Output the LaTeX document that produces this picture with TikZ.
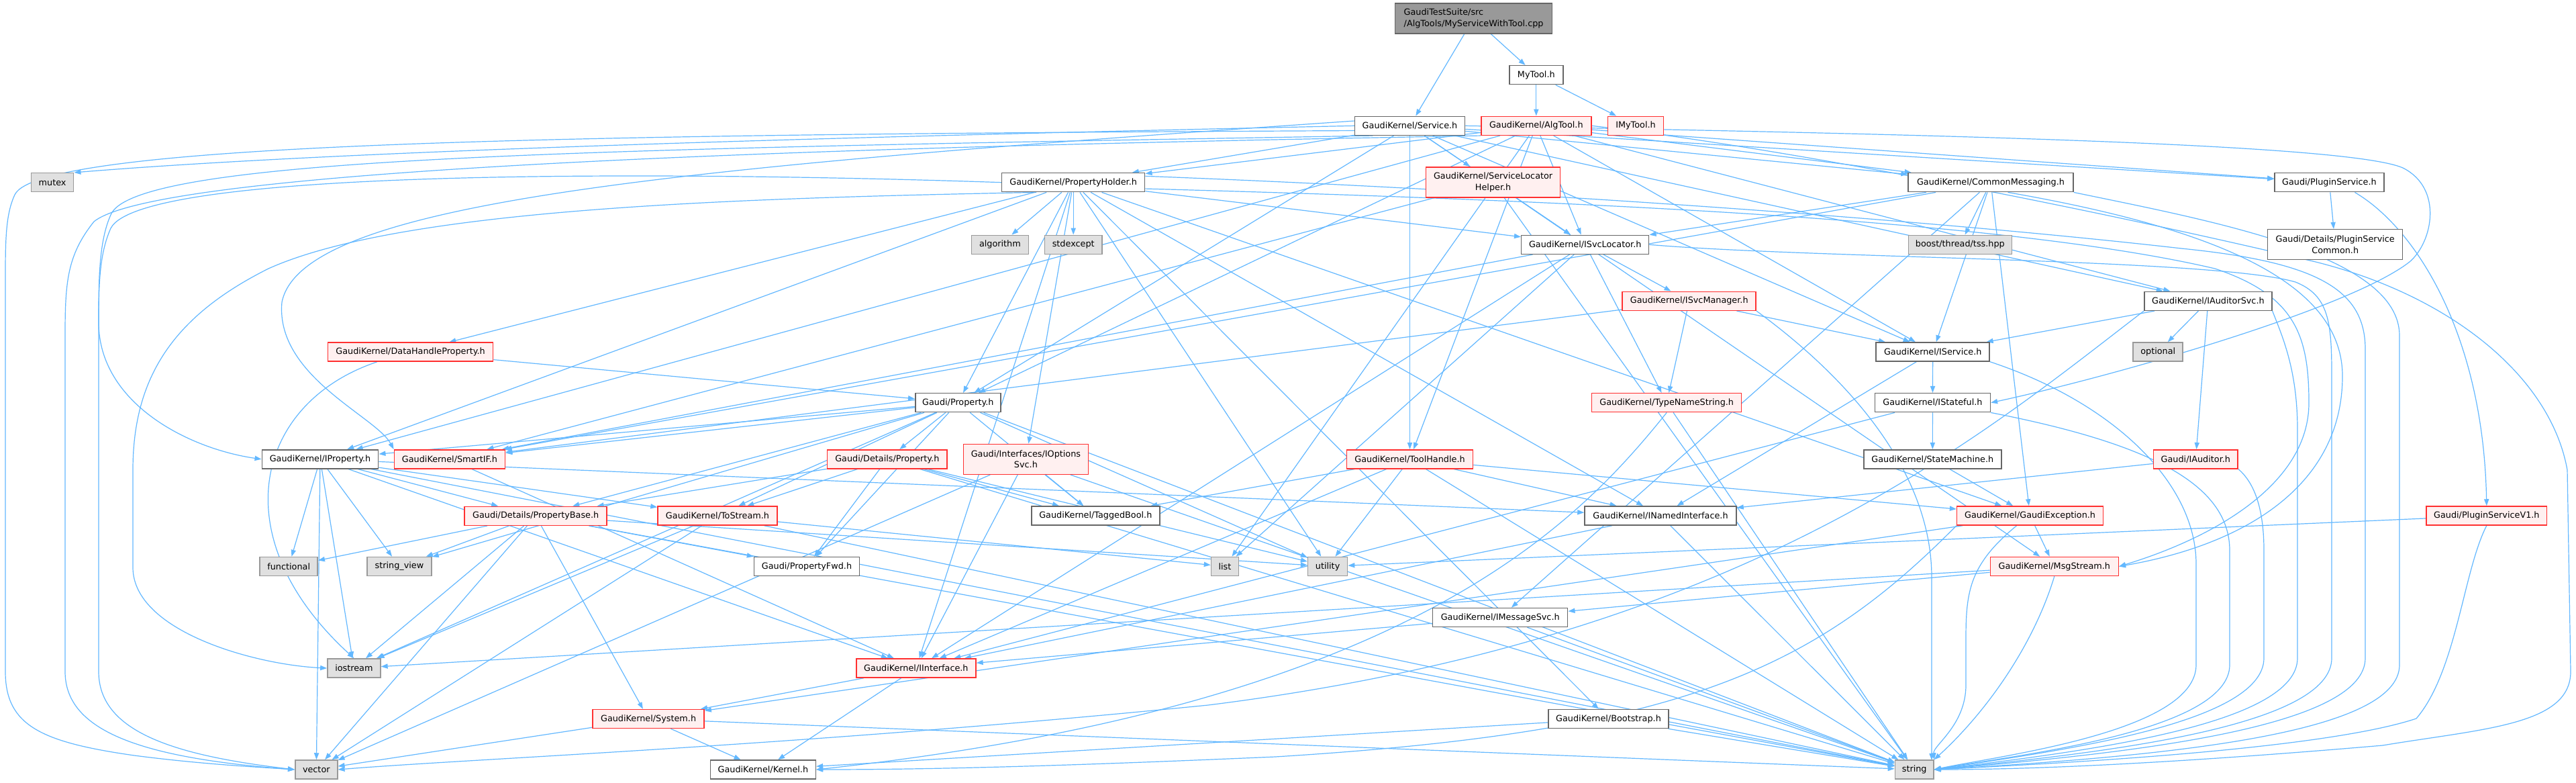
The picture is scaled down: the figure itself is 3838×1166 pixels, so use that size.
\documentclass[tikz,border=0pt]{standalone}
\usepackage{fontspec}
\setmainfont{DejaVu Sans}
\usetikzlibrary{arrows.meta}
\pgfdeclarelayer{bg}
\pgfsetlayers{bg,main}
\definecolor{edgec}{HTML}{63B8FF}
\definecolor{redfill}{HTML}{FFF0F0}
\definecolor{grayfill}{HTML}{E0E0E0}
\definecolor{grayline}{HTML}{999999}
\definecolor{boxline}{HTML}{666666}
\definecolor{rootfill}{HTML}{999999}
\definecolor{redline}{HTML}{FF3030}
\tikzset{
 nd/.style={draw=boxline, fill=white, line width=0.75pt, minimum height=14pt, inner sep=0pt, font=\fontsize{6.4}{8.3}\selectfont, text=black},
 rd/.style={nd, draw=redline, fill=redfill},
 gd/.style={nd, draw=grayline, fill=grayfill},
 rt/.style={nd, fill=rootfill, draw=boxline},
 two/.style={minimum height=22.5pt, align=center},
 e/.style={draw=edgec, line width=0.6pt, -{Triangle[length=5pt,width=3.6pt]}},
}
\newcommand{\edg}[2]{\draw[e] (#1) -- (#2);}
\begin{document}
\begin{tikzpicture}[x=0.5pt,y=0.5pt]
\useasboundingbox (0,0) rectangle (3838,-1166);
% nodes
\node[rt, minimum width=117pt, minimum height=22.5pt, align=left] (root) at (2195.6,-27.3) {GaudiTestSuite/src\\/AlgTools/MyServiceWithTool.cpp};
\node[nd, minimum width=40pt] (mytool) at (2288.8,-111.7) {MyTool.h};
\node[nd, minimum width=82pt] (service) at (2100.5,-187.3) {GaudiKernel/Service.h};
\node[rd, minimum width=82pt] (algtool) at (2288.8,-187.3) {GaudiKernel/AlgTool.h};
\node[rd, minimum width=41.5pt] (imytool) at (2437,-187.3) {IMyTool.h};
\node[gd, minimum width=31.6pt] (mutex) at (78.1,-271.7) {mutex};
\node[nd, minimum width=106.5pt] (propholder) at (1599.2,-271.7) {GaudiKernel/PropertyHolder.h};
\node[rd, two, minimum width=100pt] (slh) at (2224.6,-271.3) {GaudiKernel/ServiceLocator\\Helper.h};
\node[nd, minimum width=123pt] (cm) at (2966,-271.7) {GaudiKernel/CommonMessaging.h};
\node[nd, minimum width=81.5pt] (pluginsvc) at (3470.4,-271.7) {Gaudi/PluginService.h};
\node[gd, minimum width=42.5pt] (algorithm) at (1489.9,-364.3) {algorithm};
\node[gd, minimum width=42.7pt] (stdexcept) at (1599.2,-364.3) {stdexcept};
\node[nd, minimum width=95pt] (isvcloc) at (2361.7,-364.3) {GaudiKernel/ISvcLocator.h};
\node[gd, minimum width=77pt] (boost) at (2920.3,-364.3) {boost/thread/tss.hpp};
\node[nd, two, minimum width=100.5pt] (psc) at (3479.2,-364.2) {Gaudi/Details/PluginService\\Common.h};
\node[nd, minimum width=95pt] (iauditorsvc) at (3289.9,-448.3) {GaudiKernel/IAuditorSvc.h};
\node[rd, minimum width=99.5pt] (isvcmgr) at (2516.7,-448.3) {GaudiKernel/ISvcManager.h};
\node[rd, minimum width=123pt] (dhp) at (611.6,-524.2) {GaudiKernel/DataHandleProperty.h};
\node[nd, minimum width=84.5pt] (iservice) at (2879.7,-524) {GaudiKernel/IService.h};
\node[gd, minimum width=37pt] (optional) at (3215.2,-524) {optional};
\node[nd, minimum width=63.5pt] (property) at (1427.3,-599.7) {Gaudi/Property.h};
\node[rd, minimum width=111.5pt] (tns) at (2483.2,-599.7) {GaudiKernel/TypeNameString.h};
\node[nd, minimum width=86pt] (istateful) at (2879.4,-599.7) {GaudiKernel/IStateful.h};
\node[nd, minimum width=86.7pt] (iproperty) at (477,-683.8) {GaudiKernel/IProperty.h};
\node[rd, minimum width=82.6pt] (smartif) at (670,-683.8) {GaudiKernel/SmartIF.h};
\node[rd, minimum width=89.3pt] (detprop) at (1321.8,-683.8) {Gaudi/Details/Property.h};
\node[rd, two, minimum width=93pt] (iopts) at (1528.4,-683.8) {Gaudi/Interfaces/IOptions\\Svc.h};
\node[rd, minimum width=94pt] (toolhandle) at (2100.5,-683.8) {GaudiKernel/ToolHandle.h};
\node[nd, minimum width=102.5pt] (statemachine) at (2879.3,-683.8) {GaudiKernel/StateMachine.h};
\node[rd, minimum width=62.8pt] (iauditor) at (3271.3,-683.8) {Gaudi/IAuditor.h};
\node[rd, minimum width=106pt] (propbase) at (798.2,-768.3) {Gaudi/Details/PropertyBase.h};
\node[rd, minimum width=89pt] (tostream) at (1069,-768) {GaudiKernel/ToStream.h};
\node[nd, minimum width=95.5pt] (taggedbool) at (1632.3,-768) {GaudiKernel/TaggedBool.h};
\node[nd, minimum width=113pt] (inamed) at (2474,-768) {GaudiKernel/INamedInterface.h};
\node[rd, minimum width=109pt] (gaudiexc) at (3024.6,-768) {GaudiKernel/GaudiException.h};
\node[rd, minimum width=89.8pt] (psv1) at (3704.8,-768) {Gaudi/PluginServiceV1.h};
\node[gd, minimum width=43pt] (functional) at (430.2,-843.5) {functional};
\node[gd, minimum width=48pt] (stringview) at (595,-843.5) {string\_view};
\node[nd, minimum width=78.5pt] (propfwd) at (1202,-843.5) {Gaudi/PropertyFwd.h};
\node[gd, minimum width=20.5pt] (list) at (1825,-843.5) {list};
\node[gd, minimum width=29.5pt] (utility) at (1978.1,-843.5) {utility};
\node[rd, minimum width=95.5pt] (msgstream) at (3060.8,-843.5) {GaudiKernel/MsgStream.h};
\node[nd, minimum width=100.5pt] (imsgsvc) at (2235.2,-919.5) {GaudiKernel/IMessageSvc.h};
\node[gd, minimum width=39.5pt] (iostream) at (527.4,-995) {iostream};
\node[rd, minimum width=89pt] (iinterface) at (1364.9,-995) {GaudiKernel/IInterface.h};
\node[rd, minimum width=83pt] (system) at (966.1,-1070.5) {GaudiKernel/System.h};
\node[nd, minimum width=89.5pt] (bootstrap) at (2396.5,-1070.5) {GaudiKernel/Bootstrap.h};
\node[gd, minimum width=31.5pt] (vector) at (471.3,-1146) {vector};
\node[nd, minimum width=78.5pt] (kernel) at (1136.9,-1146) {GaudiKernel/Kernel.h};
\node[gd, minimum width=28.7pt] (string) at (2852.2,-1146) {string};
% edges
\begin{pgfonlayer}{bg}
\fill[white] (0,0) rectangle (3838,-1166);
\edg{root}{service}\edg{root}{mytool}\edg{mytool}{algtool}\edg{mytool}{imytool}
\edg{service}{propholder}\edg{service}{property}\edg{service}{slh}\edg{service}{isvcloc}
\edg{service}{cm}\edg{service}{pluginsvc}\edg{service}{iservice}\edg{service}{iauditorsvc}\edg{service}{toolhandle}
\edg{algtool}{list}\edg{algtool}{propholder}\edg{algtool}{iproperty}\edg{algtool}{property}\edg{algtool}{isvcloc}
\edg{algtool}{cm}\edg{algtool}{pluginsvc}\edg{algtool}{iservice}\edg{algtool}{iauditorsvc}\edg{algtool}{toolhandle}
\edg{propholder}{algorithm}\edg{propholder}{stdexcept}\edg{propholder}{utility}\edg{propholder}{property}
\edg{propholder}{iproperty}\edg{propholder}{isvcloc}\edg{propholder}{gaudiexc}\edg{propholder}{dhp}
\edg{propholder}{iopts}\edg{propholder}{inamed}\edg{propholder}{bootstrap}\edg{propholder}{iinterface}
\edg{slh}{isvcloc}\edg{slh}{smartif}\edg{slh}{msgstream}\edg{slh}{string}
\edg{cm}{boost}\edg{cm}{isvcloc}\edg{cm}{iservice}\edg{cm}{imsgsvc}\edg{cm}{smartif}\edg{cm}{gaudiexc}
\edg{isvcloc}{isvcmgr}\edg{isvcloc}{tns}\edg{isvcloc}{list}\edg{isvcloc}{smartif}\edg{isvcloc}{iinterface}
\edg{isvcmgr}{iservice}\edg{isvcmgr}{tns}\edg{isvcmgr}{smartif}
\edg{tns}{string}
\edg{iauditorsvc}{iservice}\edg{iauditorsvc}{optional}\edg{iauditorsvc}{iauditor}
\edg{iservice}{istateful}\edg{iservice}{inamed}
\edg{istateful}{statemachine}\edg{istateful}{iinterface}
\edg{statemachine}{gaudiexc}
\edg{iauditor}{inamed}
\edg{pluginsvc}{psc}
\edg{psv1}{utility}
\edg{dhp}{property}
\edg{iproperty}{propbase}\edg{iproperty}{tostream}\edg{iproperty}{iinterface}\edg{iproperty}{inamed}
\edg{iproperty}{functional}\edg{iproperty}{iostream}\edg{iproperty}{string}\edg{iproperty}{stringview}\edg{iproperty}{vector}
\edg{smartif}{iinterface}
\edg{property}{detprop}\edg{property}{propbase}\edg{property}{propfwd}\edg{property}{iproperty}
\edg{property}{smartif}\edg{property}{taggedbool}\edg{property}{tostream}\edg{property}{string}
\edg{property}{stringview}\edg{property}{utility}\edg{property}{iostream}
\edg{detprop}{tostream}\edg{detprop}{propfwd}\edg{detprop}{taggedbool}\edg{detprop}{string}
\edg{detprop}{utility}\edg{detprop}{propbase}
\edg{iopts}{taggedbool}\edg{iopts}{iinterface}\edg{iopts}{vector}\edg{iopts}{string}
\edg{toolhandle}{taggedbool}\edg{toolhandle}{utility}\edg{toolhandle}{inamed}\edg{toolhandle}{gaudiexc}
\edg{toolhandle}{iinterface}\edg{toolhandle}{string}
\edg{propbase}{functional}\edg{propbase}{stringview}\edg{propbase}{iostream}\edg{propbase}{vector}
\edg{propbase}{system}\edg{propbase}{string}\edg{propbase}{propfwd}\edg{propbase}{utility}
\edg{tostream}{list}\edg{tostream}{string}\edg{tostream}{vector}\edg{tostream}{iostream}
\edg{inamed}{iinterface}\edg{inamed}{string}
\edg{gaudiexc}{msgstream}\edg{gaudiexc}{system}
\edg{msgstream}{imsgsvc}\edg{msgstream}{iostream}
\edg{imsgsvc}{iinterface}\edg{imsgsvc}{string}
\edg{iinterface}{system}\edg{iinterface}{kernel}
\edg{system}{kernel}\edg{system}{vector}\edg{system}{string}
\edg{bootstrap}{kernel}\edg{bootstrap}{string}
% routed edges
\draw[e] (service.west) .. controls (1200,-205) and (500,-225) .. (mutex.north east);
\draw[e] (service.185) .. controls (900,-200) and (60,-210) .. (22,-290) .. controls (8,-320) and (8,-360) .. (8,-420) -- (8,-1000) .. controls (8,-1080) and (60,-1105) .. (200,-1125) .. controls (300,-1138) and (380,-1142) .. (vector.west);
\draw[e] (algtool.south west) .. controls (1500,-215) and (250,-240) .. (140,-330) .. controls (100,-380) and (97,-420) .. (97,-500) -- (97,-1000) .. controls (97,-1085) and (200,-1128) .. (vector.west);
\draw[e] (service.195) .. controls (900,-222) and (200,-232) .. (165,-320) .. controls (147,-360) and (147,-420) .. (147,-480) .. controls (147,-600) and (280,-668) .. (iproperty.west);
\draw[e] (propholder.west) .. controls (1000,-255) and (210,-250) .. (165,-340) .. controls (147,-380) and (147,-430) .. (147,-490) -- (147,-1000) .. controls (147,-1090) and (260,-1125) .. (vector.west);
\draw[e] (propholder.195) .. controls (1100,-295) and (600,-310) .. (400,-400) .. controls (260,-470) and (198,-560) .. (198,-700) -- (198,-845) .. controls (198,-940) and (380,-990) .. (iostream.west);
\draw[e] (service.175) .. controls (1000,-250) and (450,-300) .. (420,-450) .. controls (410,-560) and (560,-620) .. (smartif.north west);
\draw[e] (service.east) .. controls (2900,-200) and (3500,-215) .. (3580,-250) .. controls (3640,-280) and (3625,-360) .. (3590,-390) .. controls (3500,-460) and (3150,-560) .. (istateful.east);
\draw[e] (algtool.east) .. controls (2700,-225) and (3200,-330) .. (3450,-390) .. controls (3650,-440) and (3800,-560) .. (3825,-700) -- (3830,-1000) .. controls (3830,-1080) and (3700,-1085) .. (3550,-1110) .. controls (3200,-1140) and (3000,-1146) .. (string.east);
\draw[e] (propholder.5) .. controls (2300,-285) and (2900,-330) .. (3250,-370) .. controls (3450,-390) and (3524,-430) .. (3524,-520) -- (3524,-980) .. controls (3524,-1080) and (3200,-1120) .. (string.east);
\draw[e] (cm.south east) .. controls (3300,-330) and (3575,-380) .. (3575,-500) -- (3575,-990) .. controls (3575,-1090) and (3250,-1125) .. (string.east);
\draw[e] (isvcloc.east) .. controls (2700,-385) and (3300,-385) .. (3420,-420) .. controls (3470,-440) and (3474,-480) .. (3474,-560) -- (3474,-980) .. controls (3474,-1080) and (3150,-1120) .. (string.east);
\draw[e] (iauditorsvc.south east) .. controls (3400,-500) and (3423,-550) .. (3423,-640) -- (3423,-980) .. controls (3423,-1080) and (3100,-1120) .. (string.east);
\draw[e] (iauditor.south east) .. controls (3360,-720) and (3373,-760) .. (3373,-820) -- (3373,-980) .. controls (3373,-1080) and (3050,-1120) .. (string.east);
\draw[e] (istateful.south east) .. controls (3200,-660) and (3322,-720) .. (3322,-820) -- (3322,-990) .. controls (3322,-1090) and (3000,-1125) .. (string.east);
\draw[e] (iservice.south east) .. controls (3150,-600) and (3272,-720) .. (3272,-840) -- (3272,-990) .. controls (3272,-1090) and (2980,-1125) .. (string.east);
\draw[e] (isvcmgr.south east) .. controls (2750,-560) and (2878,-700) .. (2878,-860) -- (2878,-1132);
\draw[e] ([xshift=-10pt]gaudiexc.south) .. controls (2935,-840) and (2929,-880) .. (2929,-950) -- (2929,-1020) .. controls (2929,-1080) and (2880,-1110) .. (string.north east);
\draw[e] (msgstream.south) .. controls (3030,-960) and (2960,-1060) .. (string.north east);
\draw[e] (psv1.south) .. controls (3670,-850) and (3660,-1000) .. (3600,-1070) .. controls (3450,-1120) and (3000,-1140) .. (string.east);
\draw[e] ([xshift=19pt]pluginsvc.south) .. controls (3600,-340) and (3700,-500) .. (psv1.north);
\draw[e] ([xshift=-25pt]dhp.south) .. controls (380,-600) and (330,-800) .. (iostream.north);
\draw[e] (tns.south) .. controls (2350,-780) and (2100,-1050) .. (kernel.east);
\draw[e] (gaudiexc.south west) .. controls (2700,-1000) and (2500,-1090) .. (1900,-1127) .. controls (1600,-1140) and (1400,-1146) .. (kernel.east);
\draw[e] (propholder.-5) .. controls (2400,-300) and (3000,-330) .. (3300,-400) .. controls (3420,-440) and (3440,-500) .. (3440,-600) .. controls (3440,-720) and (3300,-800) .. (msgstream.east);
\draw[e] (cm.-30) .. controls (3300,-340) and (3490,-420) .. (3490,-560) .. controls (3490,-720) and (3350,-810) .. (msgstream.east);
\draw[e] (iauditorsvc.south west) .. controls (2950,-650) and (2600,-950) .. (1800,-1050) .. controls (1200,-1110) and (700,-1130) .. (vector.east);
\end{pgfonlayer}
\end{tikzpicture}
\end{document}
